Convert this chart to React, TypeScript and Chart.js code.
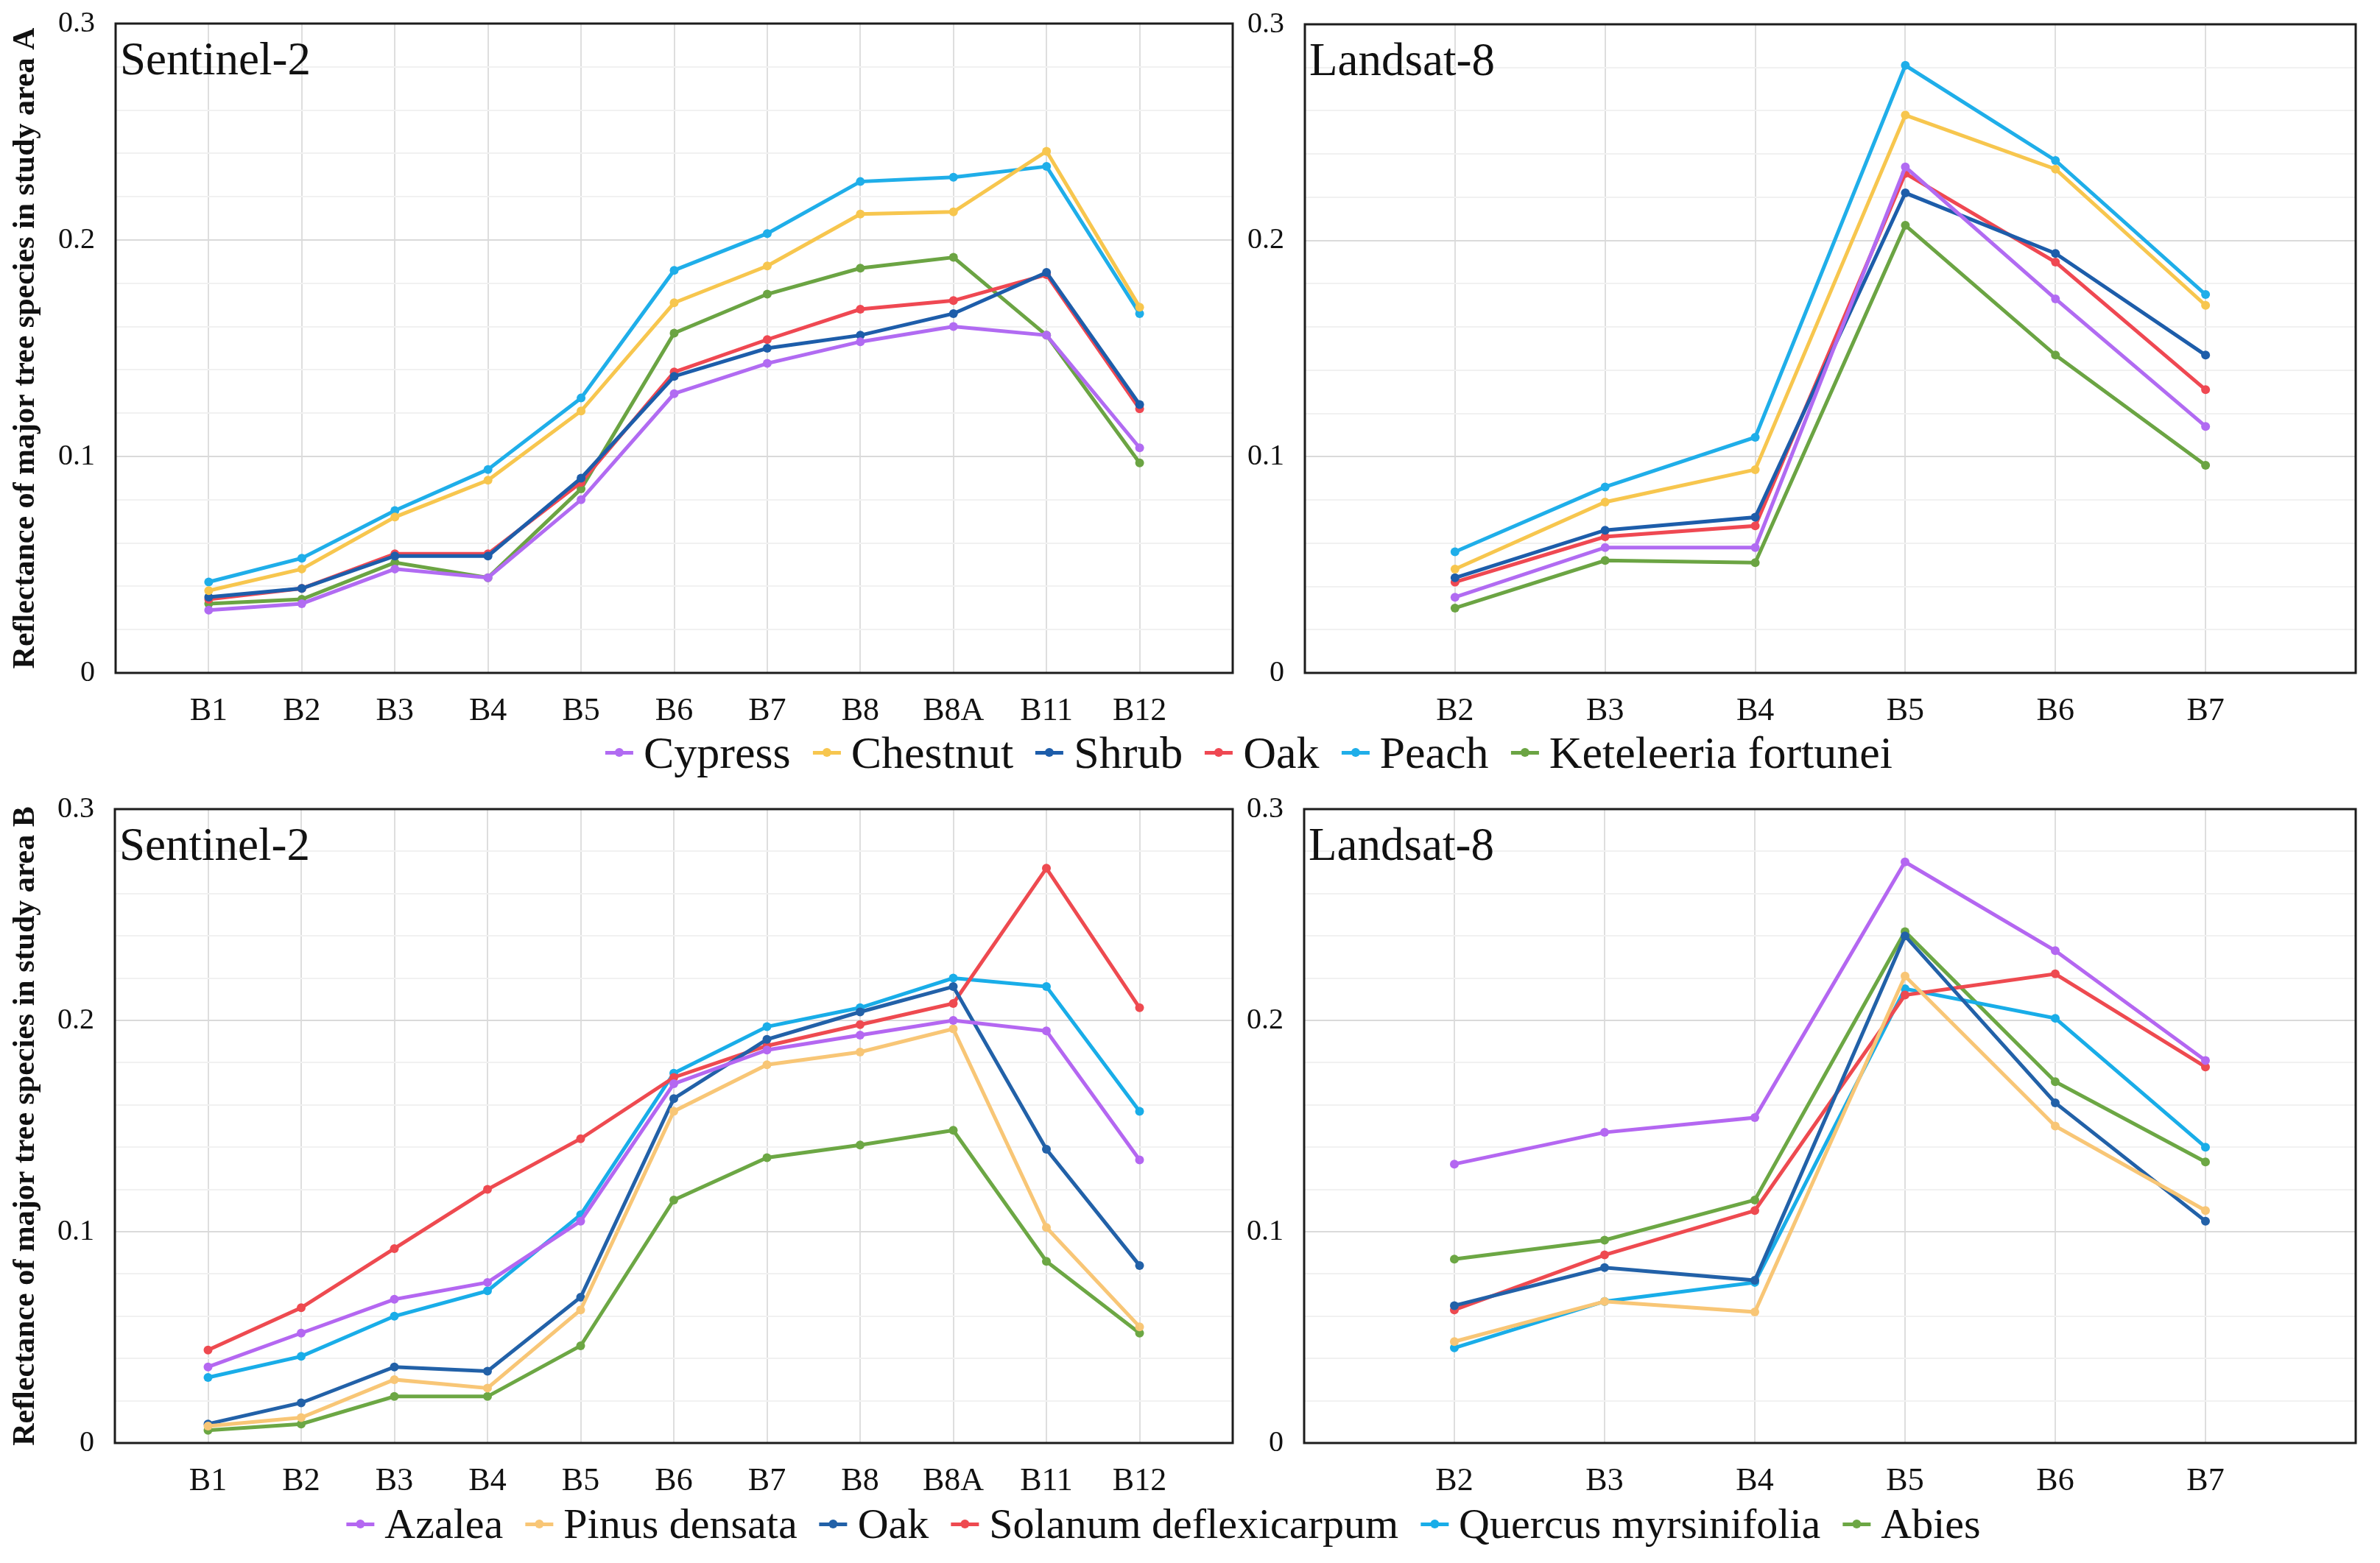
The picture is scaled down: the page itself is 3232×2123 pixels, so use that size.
import React, { useEffect, useRef } from 'react';
import { Chart, registerables } from 'chart.js';

Chart.register(...registerables);

// ---------- categories ----------
const sentinelBands = ['B1', 'B2', 'B3', 'B4', 'B5', 'B6', 'B7', 'B8', 'B8A', 'B11', 'B12'];
const landsatBands = ['B2', 'B3', 'B4', 'B5', 'B6', 'B7'];
const yTickLabels = ['0', '0.1', '0.2', '0.3'];

// ---------- study area A ----------
const speciesA = ['Cypress', 'Chestnut', 'Shrub', 'Oak', 'Peach', 'Keteleeria fortunei'];
const colorsA = ['#B16BF2', '#F7C64E', '#1D5DAA', '#EF4852', '#1FAEE9', '#6BA443'];

const aS2Cypress = [0.029, 0.032, 0.048, 0.044, 0.080, 0.129, 0.143, 0.153, 0.160, 0.156, 0.104];
const aS2Chestnut = [0.038, 0.048, 0.072, 0.089, 0.121, 0.171, 0.188, 0.212, 0.213, 0.241, 0.169];
const aS2Shrub = [0.035, 0.039, 0.054, 0.054, 0.090, 0.137, 0.150, 0.156, 0.166, 0.185, 0.124];
const aS2Oak = [0.034, 0.039, 0.055, 0.055, 0.088, 0.139, 0.154, 0.168, 0.172, 0.184, 0.122];
const aS2Peach = [0.042, 0.053, 0.075, 0.094, 0.127, 0.186, 0.203, 0.227, 0.229, 0.234, 0.166];
const aS2Keteleeria = [0.032, 0.034, 0.051, 0.044, 0.085, 0.157, 0.175, 0.187, 0.192, 0.156, 0.097];

const aL8Cypress = [0.035, 0.058, 0.058, 0.234, 0.173, 0.114];
const aL8Chestnut = [0.048, 0.079, 0.094, 0.258, 0.233, 0.170];
const aL8Shrub = [0.044, 0.066, 0.072, 0.222, 0.194, 0.147];
const aL8Oak = [0.042, 0.063, 0.068, 0.231, 0.190, 0.131];
const aL8Peach = [0.056, 0.086, 0.109, 0.281, 0.237, 0.175];
const aL8Keteleeria = [0.030, 0.052, 0.051, 0.207, 0.147, 0.096];

// ---------- study area B ----------
const speciesB = ['Azalea', 'Pinus densata', 'Oak', 'Solanum deflexicarpum', 'Quercus myrsinifolia', 'Abies'];
const colorsB = ['#B467F1', '#F8C676', '#2261A8', '#EE4A50', '#19ADE8', '#6CA744'];

const bS2Azalea = [0.036, 0.052, 0.068, 0.076, 0.105, 0.170, 0.186, 0.193, 0.200, 0.195, 0.134];
const bS2Pinus = [0.008, 0.012, 0.030, 0.026, 0.063, 0.157, 0.179, 0.185, 0.196, 0.102, 0.055];
const bS2Oak = [0.009, 0.019, 0.036, 0.034, 0.069, 0.163, 0.191, 0.204, 0.216, 0.139, 0.084];
const bS2Solanum = [0.044, 0.064, 0.092, 0.120, 0.144, 0.173, 0.188, 0.198, 0.208, 0.272, 0.206];
const bS2Quercus = [0.031, 0.041, 0.060, 0.072, 0.108, 0.175, 0.197, 0.206, 0.220, 0.216, 0.157];
const bS2Abies = [0.006, 0.009, 0.022, 0.022, 0.046, 0.115, 0.135, 0.141, 0.148, 0.086, 0.052];

const bL8Azalea = [0.132, 0.147, 0.154, 0.275, 0.233, 0.181];
const bL8Pinus = [0.048, 0.067, 0.062, 0.221, 0.150, 0.110];
const bL8Oak = [0.065, 0.083, 0.077, 0.240, 0.161, 0.105];
const bL8Solanum = [0.063, 0.089, 0.110, 0.212, 0.222, 0.178];
const bL8Quercus = [0.045, 0.067, 0.076, 0.215, 0.201, 0.140];
const bL8Abies = [0.087, 0.096, 0.115, 0.242, 0.171, 0.133];

const FONT = "'Liberation Serif', 'Times New Roman', serif";

const framePlugin = {
  id: 'frame',
  afterDraw(chart: any, _args: any, opts: any) {
    const { ctx, chartArea: a } = chart;
    ctx.save();
    ctx.strokeStyle = '#1c1c1c';
    ctx.lineWidth = 3;
    ctx.strokeRect(a.left, a.top, a.right - a.left, a.bottom - a.top);
    ctx.fillStyle = '#111';
    ctx.font = `63px ${FONT}`;
    ctx.textAlign = 'left';
    ctx.textBaseline = 'alphabetic';
    ctx.fillText(opts.text || '', a.left + 6, a.top + 69);
    ctx.restore();
  },
};

type Series = { label: string; color: string; data: number[] };

function Panel(props: {
  left: number; top: number; width: number; height: number;
  padTop: number; padRight: number; yWidth: number; xHeight: number;
  labels: string[]; series: Series[]; name: string; yTitle?: string;
}) {
  const ref = useRef<HTMLCanvasElement | null>(null);
  useEffect(() => {
    if (!ref.current) return;
    const n = props.labels.length;
    const chart = new Chart(ref.current, {
      type: 'line',
      data: {
        datasets: props.series.map((s) => ({
          label: s.label,
          data: s.data.map((v, i) => ({ x: i, y: v })),
          borderColor: s.color,
          backgroundColor: s.color,
          borderWidth: 5,
          pointRadius: 6,
          pointBorderWidth: 0,
          pointBackgroundColor: s.color,
          tension: 0,
        })),
      },
      plugins: [framePlugin],
      options: {
        responsive: false,
        animation: false,
        devicePixelRatio: 1,
        layout: { padding: { left: 0, top: props.padTop, right: props.padRight, bottom: 0 } },
        plugins: {
          legend: { display: false },
          tooltip: { enabled: false },
          frame: { text: props.name },
        } as any,
        scales: {
          x: {
            type: 'linear',
            min: -1,
            max: n,
            afterFit: (s: any) => {
              s.height = props.xHeight;
              s.paddingLeft = 0;
              s.paddingRight = 0;
            },
            ticks: {
              stepSize: 1,
              autoSkip: false,
              maxRotation: 0,
              padding: 26,
              color: '#111',
              font: { family: FONT, size: 44 },
              callback: (v: any) => {
                const i = Math.round(Number(v));
                return i >= 0 && i < n ? props.labels[i] : '';
              },
            },
            grid: {
              drawTicks: false,
              color: '#dedede',
              lineWidth: 2,
            },
            border: { display: false },
          },
          y: {
            type: 'linear',
            min: 0,
            max: 0.3,
            afterFit: (s: any) => {
              s.width = props.yWidth;
              s.paddingTop = 0;
              s.paddingBottom = 0;
            },
            ticks: {
              stepSize: 0.02,
              autoSkip: false,
              padding: 28,
              color: '#111',
              font: { family: FONT, size: 40 },
              callback: (v: any) => {
                const t = Number(v) * 10;
                if (Math.abs(t - Math.round(t)) < 1e-6) return yTickLabels[Math.round(t)];
                return '';
              },
            },
            grid: {
              drawTicks: false,
              color: (c: any) => {
                const t = c.tick ? c.tick.value * 10 : 0;
                return Math.abs(t - Math.round(t)) < 1e-6 ? '#dadada' : '#f1f1f1';
              },
              lineWidth: 2,
            },
            border: { display: false },
            title: props.yTitle
              ? {
                  display: true,
                  text: props.yTitle,
                  color: '#111',
                  font: { family: FONT, size: 42, weight: 'bold' },
                  padding: { top: 10, bottom: 0 },
                }
              : { display: false },
          },
        },
      } as any,
    });
    return () => chart.destroy();
  }, []);
  return (
    <canvas
      ref={ref}
      width={props.width}
      height={props.height}
      style={{ position: 'absolute', left: props.left, top: props.top, width: props.width, height: props.height }}
    />
  );
}

function Legend(props: { names: string[]; colors: string[]; center: number; top: number; size: number }) {
  return (
    <div
      style={{
        position: 'absolute',
        left: props.center,
        top: props.top,
        transform: 'translateX(-50%)',
        whiteSpace: 'nowrap',
        display: 'flex',
        alignItems: 'center',
        fontFamily: FONT,
        fontSize: props.size,
        color: '#111',
        lineHeight: '72px',
        zIndex: 2,
      }}
    >
      {props.names.map((nm, i) => (
        <div key={nm} style={{ display: 'flex', alignItems: 'center', marginRight: i < props.names.length - 1 ? 30 : 0 }}>
          <span style={{ position: 'relative', width: 38, height: 20, marginRight: 14, display: 'inline-block' }}>
            <span style={{ position: 'absolute', left: 0, top: 8, width: 38, height: 5, background: props.colors[i] }} />
            <span style={{ position: 'absolute', left: 13, top: 4, width: 12, height: 12, borderRadius: 6, background: props.colors[i] }} />
          </span>
          <span>{nm}</span>
        </div>
      ))}
    </div>
  );
}

export default function App() {
  const aS2 = [aS2Cypress, aS2Chestnut, aS2Shrub, aS2Oak, aS2Peach, aS2Keteleeria];
  const aL8 = [aL8Cypress, aL8Chestnut, aL8Shrub, aL8Oak, aL8Peach, aL8Keteleeria];
  const bS2 = [bS2Azalea, bS2Pinus, bS2Oak, bS2Solanum, bS2Quercus, bS2Abies];
  const bL8 = [bL8Azalea, bL8Pinus, bL8Oak, bL8Solanum, bL8Quercus, bL8Abies];
  const mk = (names: string[], colors: string[], data: number[][]): Series[] =>
    names.map((nm, i) => ({ label: nm, color: colors[i], data: data[i] }));

  return (
    <div style={{ position: 'absolute', left: 0, top: 0, width: 3232, height: 2123, background: '#fff', overflow: 'hidden' }}>
      <Panel left={0} top={0} width={1700} height={1000} padTop={32} padRight={26} yWidth={157} xHeight={86}
        labels={sentinelBands} series={mk(speciesA, colorsA, aS2)} name="Sentinel-2"
        yTitle="Reflectance of major tree species in study area A" />
      <Panel left={1660} top={0} width={1572} height={1000} padTop={33} padRight={33} yWidth={112} xHeight={86}
        labels={landsatBands} series={mk(speciesA, colorsA, aL8)} name="Landsat-8" />
      <Panel left={0} top={1060} width={1700} height={1000} padTop={39} padRight={26} yWidth={156} xHeight={100}
        labels={sentinelBands} series={mk(speciesB, colorsB, bS2)} name="Sentinel-2"
        yTitle="Reflectance of major tree species in study area B" />
      <Panel left={1660} top={1060} width={1572} height={1000} padTop={39} padRight={33} yWidth={111} xHeight={100}
        labels={landsatBands} series={mk(speciesB, colorsB, bL8)} name="Landsat-8" />
      <Legend names={speciesA} colors={colorsA} center={1696} top={986} size={62} />
      <Legend names={speciesB} colors={colorsB} center={1580} top={2034} size={58} />
    </div>
  );
}
